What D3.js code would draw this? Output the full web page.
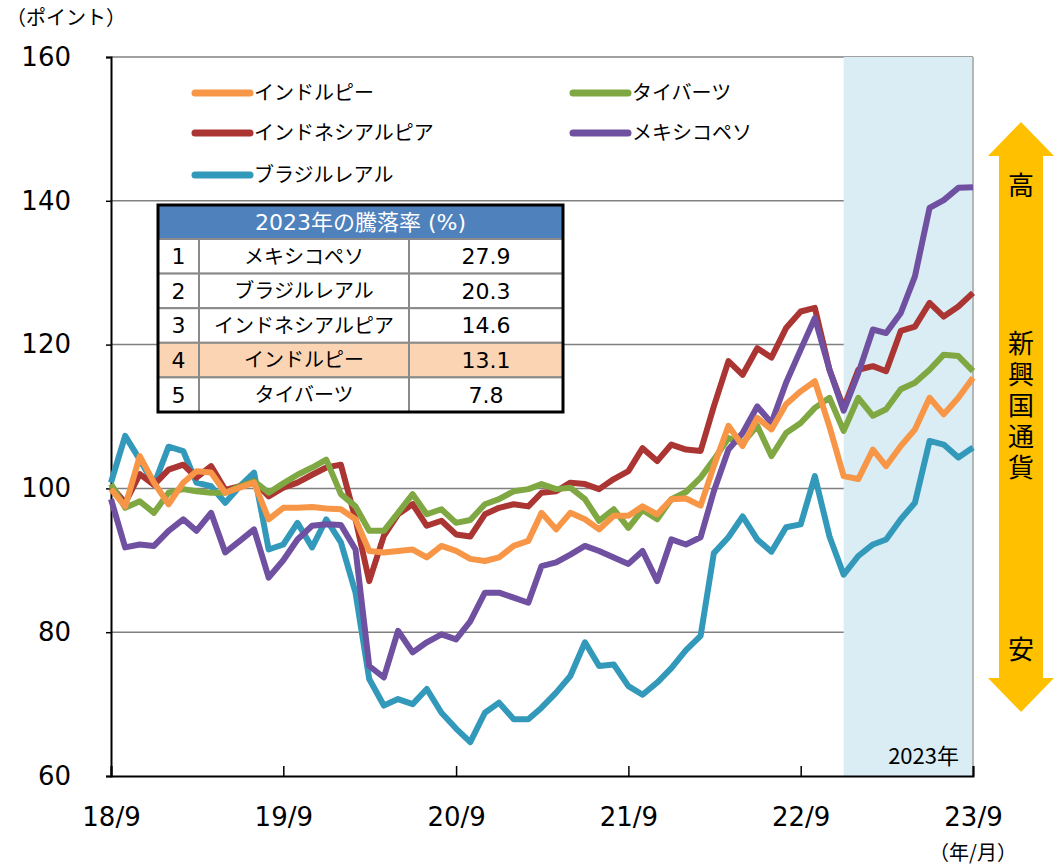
<!DOCTYPE html>
<html>
<head>
<meta charset="utf-8">
<script src="https://cdn.jsdelivr.net/npm/d3@7"></script>
<style>
  body { margin: 0; background: #fff; }
  svg { display: block; }
  text { font-family: Verdana, "DejaVu Sans", "Noto Sans CJK JP", sans-serif; }
  .jp { font-family: "Noto Sans CJK JP", sans-serif; }
</style>
</head>
<body>
<div id="chart"></div>
<script>
// 月次データ（18/9〜23/9、ポイント）
const india = [99.9, 97.5, 104.5, 100.8, 97.8, 100.8, 102.4, 102.2, 99.4, 100.1, 100.8, 95.7, 97.3,
  97.3, 97.4, 97.2, 97.1, 95.7, 91.3, 91.1, 91.3, 91.5, 90.4, 92.0, 91.3,
  90.2, 89.9, 90.4, 92.0, 92.7, 96.6, 94.3, 96.6, 95.7, 94.3, 96.2, 96.2,
  97.5, 96.4, 98.5, 98.6, 97.6, 103.1, 108.7, 105.9, 109.8, 108.2, 111.7, 113.5,
  114.9, 108.6, 101.7, 101.3, 105.4, 103.1, 105.9, 108.2, 112.6, 110.3, 112.6, 115.4];
const thai = [100.6, 97.3, 98.2, 96.6, 99.4, 99.9, 99.6, 99.4, 99.4, 100.3, 101.0, 99.4, 100.7,
  101.9, 102.9, 104.0, 99.2, 97.5, 94.1, 94.1, 96.6, 99.2, 96.4, 97.1, 95.2,
  95.6, 97.8, 98.5, 99.6, 99.9, 100.6, 99.9, 100.1, 98.5, 95.5, 97.1, 94.5,
  97.0, 95.7, 98.5, 99.5, 101.5, 104.0, 107.0, 106.3, 108.7, 104.5, 107.7, 109.1,
  111.2, 112.6, 108.0, 112.6, 110.1, 111.0, 113.8, 114.7, 116.5, 118.6, 118.4, 116.3];
const indonesia = [100.3, 98.0, 102.0, 100.5, 102.6, 103.3, 101.5, 103.1, 99.8, 100.3, 101.0, 98.9, 100.1,
  100.8, 101.9, 102.9, 103.3, 95.7, 87.1, 93.4, 96.4, 97.8, 94.8, 95.5, 93.6,
  93.3, 96.4, 97.3, 97.8, 97.5, 99.4, 99.6, 100.8, 100.6, 99.9, 101.3, 102.4,
  105.6, 103.8, 106.1, 105.4, 105.2, 111.4, 117.7, 115.8, 119.5, 118.2, 122.3, 124.6,
  125.1, 116.5, 111.2, 116.5, 117.0, 116.3, 121.9, 122.5, 125.8, 123.9, 125.3, 127.2];
const mexico = [98.5, 91.8, 92.2, 92.0, 94.1, 95.7, 94.1, 96.6, 91.1, 92.7, 94.3, 87.6, 90.0,
  92.9, 94.8, 95.0, 94.9, 91.5, 75.3, 73.7, 80.2, 77.2, 78.6, 79.7, 79.0,
  81.5, 85.5, 85.5, 84.8, 84.1, 89.2, 89.7, 90.8, 92.0, 91.3, 90.4, 89.5,
  91.3, 87.1, 92.9, 92.2, 93.2, 99.6, 105.4, 107.7, 111.4, 109.1, 114.7, 119.3,
  123.7, 116.5, 110.8, 116.0, 122.1, 121.6, 124.4, 129.5, 139.0, 140.1, 141.8, 141.9];
const brazil = [100.8, 107.3, 104.0, 100.5, 105.8, 105.2, 100.8, 100.3, 98.0, 100.3, 102.2, 91.5, 92.2,
  95.2, 91.8, 95.7, 92.5, 85.5, 73.5, 69.8, 70.7, 70.0, 72.1, 68.8, 66.6,
  64.7, 68.8, 70.2, 67.9, 67.9, 69.5, 71.6, 73.9, 78.6, 75.3, 75.5, 72.5,
  71.3, 73.0, 75.0, 77.5, 79.5, 91.0, 93.2, 96.1, 92.9, 91.2, 94.6, 95.0,
  101.7, 93.3, 88.0, 90.6, 92.2, 92.9, 95.7, 98.0, 106.6, 106.1, 104.3, 105.7];

const xTickLabels = ["18/9", "19/9", "20/9", "21/9", "22/9", "23/9"];
const yTicks = [60, 80, 100, 120, 140, 160];

// 2023年の騰落率
const rankNames = ["メキシコペソ", "ブラジルレアル", "インドネシアルピア", "インドルピー", "タイバーツ"];
const rankValues = ["27.9", "20.3", "14.6", "13.1", "7.8"];

// 月のカテゴリ
const months = d3.timeMonth.range(new Date(2018, 8, 1), new Date(2023, 9, 1));

// 系列（描画順：下から上）
const series = [
  { name: "ブラジルレアル", values: brazil, color: "#3399ba" },
  { name: "インドネシアルピア", values: indonesia, color: "#ab3532" },
  { name: "タイバーツ", values: thai, color: "#7fa843" },
  { name: "メキシコペソ", values: mexico, color: "#7050a0" },
  { name: "インドルピー", values: india, color: "#f79646" }
];
const legendOrder = ["インドルピー", "タイバーツ", "インドネシアルピア", "メキシコペソ", "ブラジルレアル"];

const width = 1054, height = 865;
const plot = { left: 111, right: 973, top: 57, bottom: 776 };

const svg = d3.select("#chart").append("svg")
  .attr("width", width)
  .attr("height", height);

const x = d3.scaleTime()
  .domain([months[0], months[months.length - 1]])
  .range([plot.left, plot.right]);
const y = d3.scaleLinear()
  .domain([60, 160])
  .range([plot.bottom, plot.top]);

// グリッド線
svg.append("g")
  .selectAll("line")
  .data(yTicks.filter(d => d > 60))
  .enter().append("line")
  .attr("x1", plot.left).attr("x2", plot.right)
  .attr("y1", d => y(d)).attr("y2", d => y(d))
  .attr("stroke", "#808080")
  .attr("stroke-width", 1.5);

// 2023年の網掛け
svg.append("rect")
  .attr("x", x(new Date(2022, 11, 1)))
  .attr("y", plot.top)
  .attr("width", x(new Date(2023, 8, 1)) - x(new Date(2022, 11, 1)))
  .attr("height", plot.bottom - plot.top)
  .attr("fill", "#daedf4");
svg.append("line")
  .attr("x1", plot.right).attr("x2", plot.right)
  .attr("y1", plot.top).attr("y2", plot.bottom)
  .attr("stroke", "#a0a0a0").attr("stroke-width", 1.5);
svg.append("text")
  .attr("class", "jp")
  .attr("x", 959).attr("y", 764)
  .attr("text-anchor", "end")
  .attr("font-size", 22)
  .text("2023年");

// 軸
const xAxis = d3.axisBottom(x)
  .tickValues(xTickLabels.map(t => new Date(2000 + +t.split("/")[0], 8, 1)))
  .tickSize(-10)
  .tickFormat((d, i) => xTickLabels[i]);
const gx = svg.append("g")
  .attr("transform", "translate(0," + plot.bottom + ")")
  .call(xAxis);
gx.select(".domain").attr("stroke", "#000").attr("stroke-width", 2);
gx.selectAll(".tick line").attr("stroke", "#000").attr("stroke-width", 1.5);
gx.selectAll(".tick text")
  .attr("font-size", 26)
  .attr("font-family", "Verdana, 'DejaVu Sans', sans-serif")
  .attr("fill", "#000")
  .attr("dy", 0)
  .attr("y", 50);

const yAxis = d3.axisLeft(y)
  .tickValues(yTicks)
  .tickSize(5)
  .tickPadding(35);
const gy = svg.append("g")
  .attr("transform", "translate(" + plot.left + ",0)")
  .call(yAxis);
gy.select(".domain").attr("stroke", "#000").attr("stroke-width", 2);
gy.selectAll(".tick line").attr("stroke", "#000").attr("stroke-width", 1.5);
gy.selectAll(".tick text")
  .attr("font-size", 26)
  .attr("font-family", "Verdana, 'DejaVu Sans', sans-serif")
  .attr("fill", "#000");

svg.append("text")
  .attr("class", "jp")
  .attr("x", 6).attr("y", 25)
  .attr("font-size", 20)
  .text("（ポイント）");
svg.append("text")
  .attr("class", "jp")
  .attr("x", 973).attr("y", 860)
  .attr("text-anchor", "middle")
  .attr("font-size", 20)
  .text("（年/月）");

// 折れ線
const line = d3.line()
  .x((d, i) => x(months[i]))
  .y(d => y(d));

svg.append("g")
  .selectAll("path")
  .data(series)
  .enter().append("path")
  .attr("d", d => line(d.values))
  .attr("fill", "none")
  .attr("stroke", d => d.color)
  .attr("stroke-width", 6)
  .attr("stroke-linejoin", "round");

// 凡例
const legendPos = [[195, 93], [573, 93], [195, 133], [573, 133], [195, 175]];
const legend = svg.append("g")
  .selectAll("g")
  .data(legendOrder.map(n => series.find(s => s.name === n)))
  .enter().append("g")
  .attr("transform", (d, i) => "translate(" + legendPos[i][0] + "," + legendPos[i][1] + ")");
legend.append("line")
  .attr("x1", 0).attr("x2", 55)
  .attr("stroke", d => d.color)
  .attr("stroke-width", 7)
  .attr("stroke-linecap", "round");
legend.append("text")
  .attr("class", "jp")
  .attr("x", 59).attr("dy", "0.35em")
  .attr("font-size", 20)
  .text(d => d.name);

// 騰落率の表
const table = { x: 158, y: 205, header: 34, row: 34.6, cols: [158, 199, 409, 563] };
const tg = svg.append("g");
tg.append("rect")
  .attr("x", table.x).attr("y", table.y)
  .attr("width", table.cols[3] - table.x).attr("height", table.header)
  .attr("fill", "#4f81bd");
tg.append("text")
  .attr("x", (table.cols[0] + table.cols[3]) / 2)
  .attr("y", table.y + table.header / 2)
  .attr("dy", "0.36em")
  .attr("text-anchor", "middle")
  .attr("font-size", 22)
  .attr("fill", "#fff")
  .text("2023年の騰落率 (%)");

const rows = tg.selectAll("g.row")
  .data(rankNames)
  .enter().append("g")
  .attr("class", "row")
  .attr("transform", (d, i) => "translate(0," + (table.y + table.header + i * table.row) + ")");
rows.append("rect")
  .attr("x", table.x).attr("width", table.cols[3] - table.x)
  .attr("height", table.row)
  .attr("fill", d => d === "インドルピー" ? "#fbd4b4" : "#fff")
  .attr("stroke", "#8a8a8a").attr("stroke-width", 2);
rows.append("line")
  .attr("x1", table.cols[1]).attr("x2", table.cols[1])
  .attr("y2", table.row).attr("stroke", "#8a8a8a").attr("stroke-width", 2);
rows.append("line")
  .attr("x1", table.cols[2]).attr("x2", table.cols[2])
  .attr("y2", table.row).attr("stroke", "#8a8a8a").attr("stroke-width", 2);
rows.append("text")
  .attr("x", (table.cols[0] + table.cols[1]) / 2).attr("y", table.row / 2)
  .attr("dy", "0.36em").attr("text-anchor", "middle")
  .attr("font-size", 22)
  .text((d, i) => i + 1);
rows.append("text")
  .attr("class", "jp")
  .attr("x", (table.cols[1] + table.cols[2]) / 2).attr("y", table.row / 2)
  .attr("dy", "0.36em").attr("text-anchor", "middle")
  .attr("font-size", 20)
  .text(d => d);
rows.append("text")
  .attr("x", (table.cols[2] + table.cols[3]) / 2).attr("y", table.row / 2)
  .attr("dy", "0.36em").attr("text-anchor", "middle")
  .attr("font-size", 22)
  .text((d, i) => rankValues[i]);
tg.append("rect")
  .attr("x", table.x).attr("y", table.y)
  .attr("width", table.cols[3] - table.x)
  .attr("height", table.header + rankNames.length * table.row)
  .attr("fill", "none")
  .attr("stroke", "#000").attr("stroke-width", 3);

// 右側の矢印
const arrowX = 1021, arrowTop = 122, arrowBot = 712;
svg.append("path")
  .attr("d", d3.line()([
    [arrowX, arrowTop], [arrowX + 33, arrowTop + 34], [arrowX + 22, arrowTop + 34],
    [arrowX + 22, arrowBot - 34], [arrowX + 33, arrowBot - 34], [arrowX, arrowBot],
    [arrowX - 33, arrowBot - 34], [arrowX - 22, arrowBot - 34], [arrowX - 22, arrowTop + 34],
    [arrowX - 33, arrowTop + 34]
  ]) + "Z")
  .attr("fill", "#ffc000");
svg.append("text")
  .attr("class", "jp")
  .attr("x", arrowX).attr("y", 186).attr("dy", "0.36em")
  .attr("text-anchor", "middle").attr("font-size", 26)
  .text("高");
// 縦書き
svg.append("text")
  .attr("class", "jp")
  .attr("x", arrowX).attr("y", 330)
  .attr("writing-mode", "vertical-rl")
  .attr("letter-spacing", 5)
  .attr("font-size", 26)
  .text("新興国通貨");
svg.append("text")
  .attr("class", "jp")
  .attr("x", arrowX).attr("y", 650).attr("dy", "0.36em")
  .attr("text-anchor", "middle").attr("font-size", 26)
  .text("安");
</script>
</body>
</html>
